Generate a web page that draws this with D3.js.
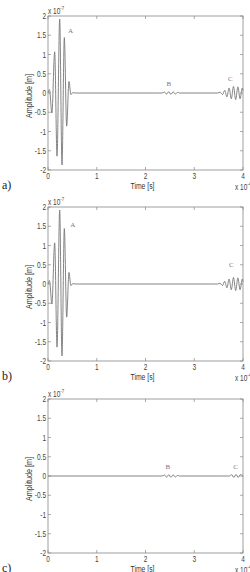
<!DOCTYPE html>
<html>
<head>
<meta charset="utf-8">
<script src="https://cdn.jsdelivr.net/npm/d3@7"></script>
<style>
  body { margin: 0; background: #fff; }
  svg { display: block; }
  .tick-label { font-family: "Liberation Sans", Arial, sans-serif; font-size: 9px; fill: #444; }
  .axis-title { font-family: "Liberation Sans", Arial, sans-serif; font-size: 9.5px; fill: #333; }
  .mark { font-family: "Liberation Serif", "Times New Roman", serif; font-size: 7px; fill: #777; }
  .panel-id { font-family: "Liberation Serif", "Times New Roman", serif; font-size: 12px; fill: #222; }
</style>
</head>
<body>
<div id="chart"></div>
<script>
// tick values (time in 1e-4 s, amplitude in 1e-7 m)
const xTicks = [0, 1, 2, 3, 4];
const yTicks = [-2, -1.5, -1, -0.5, 0, 0.5, 1, 1.5, 2];
const panelIds = ['a)', 'b)', 'c)'];

// excitation burst "A" (extrema)
const burstTime = [0, 0.03, 0.08, 0.137, 0.185, 0.24, 0.287, 0.335, 0.383, 0.43, 0.47, 0.51, 0.56];
const burstAmp = [0, 0.09, -0.52, 1.07, -1.64, 1.92, -1.87, 1.44, -0.86, 0.3, -0.04, 0.01, 0];

// echo "B"
const echoBTime = [2.34, 2.39, 2.43, 2.48, 2.52, 2.57, 2.61, 2.66, 2.7];
const echoBAmp = [0, 0.025, -0.03, 0.035, -0.035, 0.03, -0.025, 0.015, 0];

// echo "C" (full)
const echoCTime = [3.48, 3.53, 3.58, 3.625, 3.67, 3.715, 3.76, 3.805, 3.85, 3.895, 3.94, 3.985, 4.0];
const echoCAmp = [0, 0.02, -0.04, 0.07, -0.1, 0.13, -0.15, 0.17, -0.17, 0.16, -0.15, 0.13, 0.06];

// echo "C" (weak, panel c)
const weakCTime = [3.72, 3.77, 3.81, 3.86, 3.9, 3.95, 4.0];
const weakCAmp = [0, 0.035, -0.04, 0.04, -0.04, 0.04, -0.01];

// label positions
const labelsA = [['A', 0.46, 1.55], ['B', 2.48, 0.17], ['C', 3.74, 0.3]];
const labelsB = [['A', 0.51, 1.47], ['C', 3.76, 0.43]];
const labelsC = [['B', 2.46, 0.19], ['C', 3.85, 0.19]];

function pts(t, a) { return t.map((d, i) => [d, a[i]]); }

const seriesA = [[0, 0]].concat(pts(burstTime, burstAmp), [[2.2, 0]], pts(echoBTime, echoBAmp), [[3.3, 0]], pts(echoCTime, echoCAmp));
const seriesB = [[0, 0]].concat(pts(burstTime, burstAmp), [[3.3, 0]], pts(echoCTime, echoCAmp));
const seriesC = [[0, 0], [2.2, 0]].concat(pts(echoBTime, echoBAmp), [[3.5, 0]], pts(weakCTime, weakCAmp));

const W = 250, H = 572;
const svg = d3.select('#chart').append('svg').attr('width', W).attr('height', H);

const left = 48, right = 243, plotH = 154;
const tops = [16, 207, 399];
const squash = 0.72; // the original figure is narrowed horizontally
const panels = [
  { data: seriesA, labels: labelsA },
  { data: seriesB, labels: labelsB },
  { data: seriesC, labels: labelsC }
];

const x = d3.scaleLinear([0, 4], [left, right]);

// narrow text, placed at (tx, ty)
function ntext(g, tx, ty, cls, anchor) {
  return g.append('text').attr('class', cls)
    .attr('text-anchor', anchor || 'start')
    .attr('transform', `translate(${tx},${ty}) scale(${squash},1)`);
}

panels.forEach((p, k) => {
  const top = tops[k];
  const bottom = top + plotH;
  const y = d3.scaleLinear([-2, 2], [bottom, top]);
  const g = svg.append('g');

  // box
  g.append('rect')
    .attr('x', left).attr('y', top)
    .attr('width', right - left).attr('height', plotH)
    .attr('fill', 'none').attr('stroke', '#888').attr('stroke-width', 0.8);

  // inward ticks, all four sides
  xTicks.forEach(t => {
    g.append('line').attr('x1', x(t)).attr('x2', x(t)).attr('y1', bottom).attr('y2', bottom - 3)
      .attr('stroke', '#888').attr('stroke-width', 0.7);
    g.append('line').attr('x1', x(t)).attr('x2', x(t)).attr('y1', top).attr('y2', top + 3)
      .attr('stroke', '#888').attr('stroke-width', 0.7);
    ntext(g, x(t), bottom + 8.5, 'tick-label', 'middle').text(t);
  });
  yTicks.forEach(t => {
    g.append('line').attr('x1', left).attr('x2', left + 3).attr('y1', y(t)).attr('y2', y(t))
      .attr('stroke', '#888').attr('stroke-width', 0.7);
    g.append('line').attr('x1', right).attr('x2', right - 3).attr('y1', y(t)).attr('y2', y(t))
      .attr('stroke', '#888').attr('stroke-width', 0.7);
    ntext(g, left - 2, y(t) + 3.2, 'tick-label', 'end').text(t);
  });

  // exponent labels
  const ey = ntext(g, left, top - 2.5, 'tick-label');
  ey.append('tspan').text('x 10');
  ey.append('tspan').attr('dy', -4).attr('font-size', '6px').text('-7');

  const ex = ntext(g, 235, bottom + 20, 'tick-label');
  ex.append('tspan').text('x 10');
  ex.append('tspan').attr('dy', -4).attr('font-size', '6px').text('-4');

  // axis titles
  g.append('text').attr('class', 'axis-title')
    .attr('text-anchor', 'middle')
    .attr('font-size', '10px')
    .attr('transform', `translate(${32}, ${top + plotH / 2 + 3}) rotate(-90) scale(0.76,0.95)`)
    .text('Amplitude [m]');
  ntext(g, (left + right) / 2 - 3, bottom + 18.5, 'axis-title', 'middle').text('Time [s]');

  g.append('text').attr('class', 'panel-id')
    .attr('x', 2).attr('y', bottom + 19).text(panelIds[k]);

  // signal
  const line = d3.line().x(d => x(d[0])).y(d => y(d[1])).curve(d3.curveMonotoneX);
  g.append('path').datum(p.data)
    .attr('d', line)
    .attr('fill', 'none').attr('stroke', '#777').attr('stroke-width', 0.9);

  p.labels.forEach(l => {
    g.append('text').attr('class', 'mark')
      .attr('x', x(l[1])).attr('y', y(l[2]))
      .attr('text-anchor', 'middle').text(l[0]);
  });
});
</script>
</body>
</html>
